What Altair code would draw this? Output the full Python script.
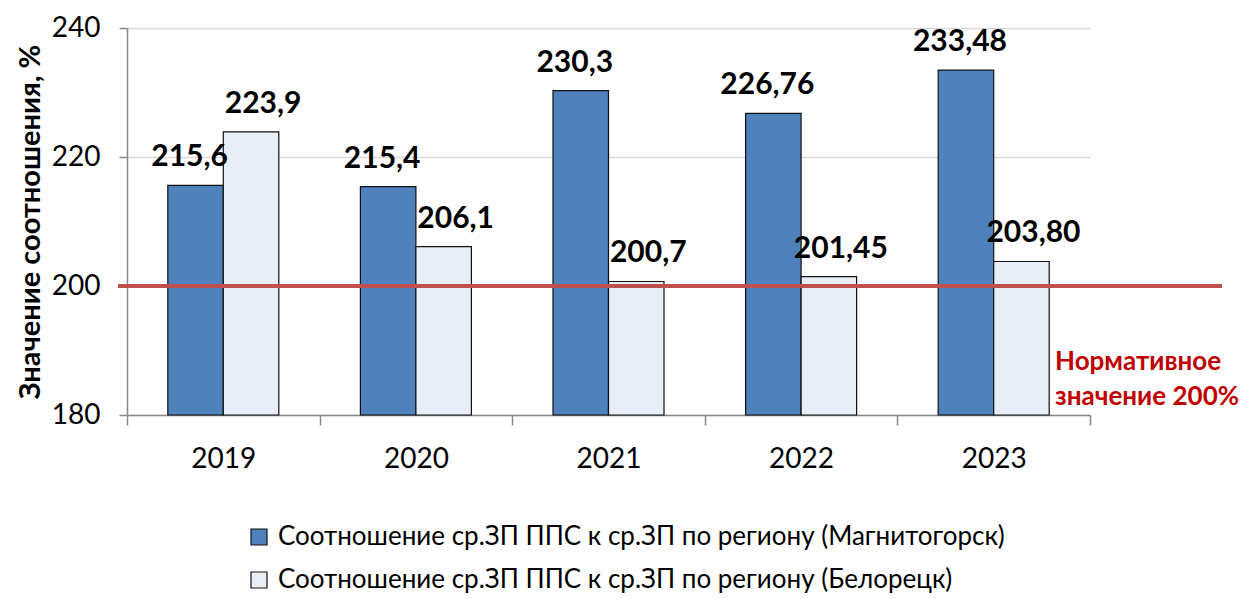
import altair as alt
import pandas as pd

years = ["2019", "2020", "2021", "2022", "2023"]
series_names = [
    "Соотношение ср.ЗП ППС к ср.ЗП по региону (Магнитогорск)",
    "Соотношение ср.ЗП ППС к ср.ЗП по региону (Белорецк)",
]
magnitogorsk = [215.6, 215.4, 230.3, 226.76, 233.48]
beloretsk = [223.9, 206.1, 200.7, 201.45, 203.80]
magnitogorsk_labels = ["215,6", "215,4", "230,3", "226,76", "233,48"]
beloretsk_labels = ["223,9", "206,1", "200,7", "201,45", "203,80"]
norm_value = 200
norm_text = ["Нормативное", "значение  200%"]
y_ticks = [180, 200, 220, 240]

rows = []
for i, y in enumerate(years):
    rows.append({"year": y, "series": series_names[0], "value": magnitogorsk[i], "label": magnitogorsk_labels[i]})
    rows.append({"year": y, "series": series_names[1], "value": beloretsk[i], "label": beloretsk_labels[i]})
df = pd.DataFrame(rows)

FONT = "Lato"
W, H = 963, 387

x_enc = alt.X(
    "year:N",
    title=None,
    scale=alt.Scale(paddingInner=0, paddingOuter=0),
    axis=alt.Axis(
        labelFontSize=28, labelFont=FONT, labelColor="black", labelPadding=20,
        tickBand="extent", tickSize=10, tickColor="#888888", domainColor="#888888",
        labelAngle=0, grid=False,
    ),
)
xoff_enc = alt.XOffset(
    "series:N", sort=series_names,
    scale=alt.Scale(paddingInner=0, paddingOuter=0.735),
)
y_scale = alt.Scale(domain=[180, 240], nice=False, zero=False)

bars = alt.Chart(df).mark_bar(stroke="#111111", strokeWidth=1.2).encode(
    x=x_enc,
    xOffset=xoff_enc,
    y=alt.Y(
        "value:Q", scale=y_scale,
        title="Значение соотношения, %",
        axis=alt.Axis(
            values=y_ticks, labelFontSize=28, labelFont=FONT, labelColor="black",
            labelPadding=19, tickSize=8, tickColor="#888888", domainColor="#888888",
            gridColor="#d9d9d9", gridWidth=1.5,
            titleFontSize=29, titleFont=FONT, titleFontWeight="bold", titleColor="black",
            titlePadding=6,
        ),
    ),
    y2=alt.datum(180),
    fill=alt.Fill(
        "series:N",
        sort=series_names,
        scale=alt.Scale(domain=series_names, range=["#4f81bd", "#e8eef7"]),
        legend=alt.Legend(
            title=None, orient="none", legendX=119, legendY=496, direction="vertical",
            symbolType="square", symbolSize=256, symbolStrokeColor="#111111",
            symbolStrokeWidth=1.2, labelFontSize=26, labelFont=FONT, labelColor="black",
            rowPadding=17, labelOffset=6, padding=0, labelLimit=1000,
        ),
    ),
)

def label_layer(series, dx):
    return alt.Chart(df).transform_filter(
        alt.datum.series == series
    ).mark_text(
        fontSize=30, fontWeight="bold", font=FONT, color="black",
        baseline="middle", dy=-28, dx=dx,
    ).encode(
        x=alt.X("year:N"),
        xOffset=xoff_enc,
        y=alt.Y("value:Q", scale=y_scale),
        text="label:N",
    )

labels_a = label_layer(series_names[0], -6)
labels_b = label_layer(series_names[1], 12)

norm_df = pd.DataFrame({"v": [norm_value]})
rule = alt.Chart(norm_df).mark_rule(color="#c0504d", strokeWidth=4, clip=False).encode(
    y=alt.Y("v:Q", scale=y_scale),
    x=alt.value(-9),
    x2=alt.value(1095),
)

note = alt.Chart(pd.DataFrame({"t": [norm_text]})).mark_text(
    color="#c00000", fontSize=26, fontWeight="bold", font=FONT, align="left",
    baseline="middle", lineHeight=35,
).encode(
    x=alt.value(928),
    y=alt.value(334),
    text="t",
)

chart = alt.layer(bars, labels_a, labels_b, rule, note).properties(
    width=W, height=H,
    autosize=alt.AutoSizeParams(type="none"),
    padding={"left": 119, "top": 20, "right": 150, "bottom": 180},
).configure_view(stroke=None).configure_axis(domainWidth=1.5, tickWidth=1.5)

chart.save("out.html", embed_options={"renderer": "svg", "actions": False})
